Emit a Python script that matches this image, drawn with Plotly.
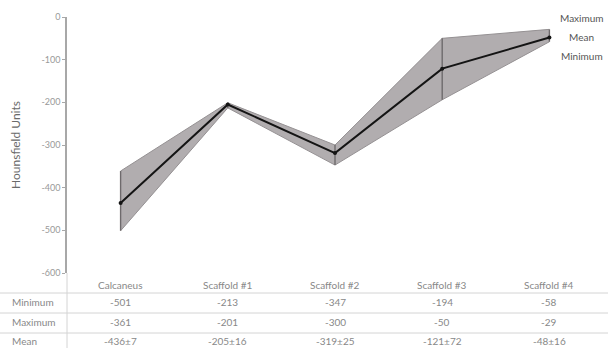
import plotly.graph_objects as go

# Hounsfield unit ranges per sample
categories = ["Calcaneus", "Scaffold #1", "Scaffold #2", "Scaffold #3", "Scaffold #4"]
minimum = [-501, -213, -347, -194, -58]
maximum = [-361, -201, -300, -50, -29]
mean = [-436, -205, -319, -121, -48]
mean_sd = [7, 16, 25, 72, 16]
y_ticks = [0, -100, -200, -300, -400, -500, -600]

x = list(range(len(categories)))
FONT = "Lato"
TXT = "#888888"

fig = go.Figure()

# shaded min-max band
fig.add_trace(go.Scatter(x=x, y=maximum, mode="lines",
                         line=dict(color="#959193", width=1),
                         hoverinfo="skip", showlegend=False))
fig.add_trace(go.Scatter(x=x, y=minimum, mode="lines", fill="tonexty",
                         fillcolor="#b1adaf",
                         line=dict(color="#959193", width=1),
                         hoverinfo="skip", showlegend=False))

# vertical range lines at each sample
for xi, lo, hi in zip(x, minimum, maximum):
    fig.add_trace(go.Scatter(x=[xi, xi], y=[lo, hi], mode="lines",
                             line=dict(color="#6e6a6c", width=1.4),
                             hoverinfo="skip", showlegend=False))

# mean line
fig.add_trace(go.Scatter(x=x, y=mean, mode="lines+markers",
                         line=dict(color="#141414", width=2),
                         marker=dict(size=4, color="#141414"),
                         showlegend=False))

annotations = []

# series labels at the right end
for label, yv in [("Maximum", -2), ("Mean", -47), ("Minimum", -91)]:
    annotations.append(dict(x=4.3, y=yv, xref="x", yref="y", text=label,
                            showarrow=False, xanchor="center", yanchor="middle",
                            font=dict(family=FONT, size=10, color="#555555")))

# data table below the plot
H = 256.0
def py(pix):
    return (273 - pix) / H

def px(pix):
    return (pix - 67) / 536.0

for i, c in enumerate(categories):
    annotations.append(dict(x=i, y=py(285), xref="x", yref="paper", text=c,
                            showarrow=False, yanchor="middle",
                            font=dict(family=FONT, size=10, color=TXT)))

rows = [
    ("Minimum", [str(v) for v in minimum], 302),
    ("Maximum", [str(v) for v in maximum], 322),
    ("Mean", [f"{m}±{s}" for m, s in zip(mean, mean_sd)], 341),
]
for name, vals, ypix in rows:
    annotations.append(dict(x=px(10), y=py(ypix), xref="paper", yref="paper",
                            text=name, showarrow=False, xanchor="left",
                            yanchor="middle",
                            font=dict(family=FONT, size=10, color=TXT)))
    for i, v in enumerate(vals):
        annotations.append(dict(x=i, y=py(ypix), xref="x", yref="paper",
                                text=v, showarrow=False, yanchor="middle",
                                font=dict(family=FONT, size=10, color=TXT)))

shapes = []
for ypix in [293, 313, 333]:
    shapes.append(dict(type="line", xref="paper", yref="paper",
                       x0=px(0), x1=px(608), y0=py(ypix), y1=py(ypix),
                       line=dict(color="#d4d4d4", width=1)))
shapes.append(dict(type="line", xref="paper", yref="paper",
                   x0=0, x1=0, y0=0, y1=py(348),
                   line=dict(color="#d4d4d4", width=1)))

fig.update_layout(
    width=611, height=348,
    margin=dict(l=67, r=8, t=17, b=75),
    paper_bgcolor="white", plot_bgcolor="white",
    annotations=annotations, shapes=shapes,
    font=dict(family=FONT, color=TXT),
)
fig.update_xaxes(range=[-0.5, 4.5], showticklabels=False, showgrid=False,
                 zeroline=False, showline=False)
fig.update_yaxes(range=[-600, 0], tickvals=y_ticks,
                 ticktext=[str(v) for v in y_ticks],
                 showgrid=False, zeroline=False, showline=True,
                 linecolor="#a8a8a8", linewidth=1.5,
                 ticks="outside", ticklen=3, tickcolor="#a8a8a8",
                 tickfont=dict(family=FONT, size=9, color="#999999"),
                 title=dict(text="Hounsfield Units", standoff=18,
                            font=dict(family=FONT, size=12, color="#6a6a6a")))

fig.write_html("out.html")
